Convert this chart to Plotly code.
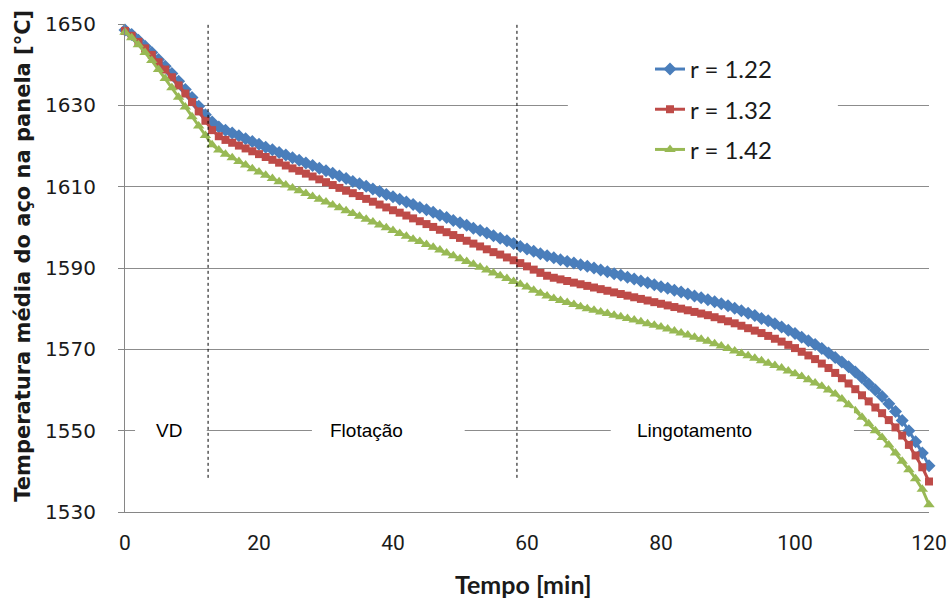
import plotly.graph_objects as go

tempo = list(range(0, 121))

r122 = [1648.5, 1647.4, 1646.0, 1644.5, 1643.0, 1641.3, 1639.6, 1637.8, 1635.9, 1633.9,
        1631.9, 1629.8, 1627.7, 1625.9, 1624.7, 1623.9, 1623.2, 1622.5, 1621.8, 1621.1,
        1620.4, 1619.7, 1619.1, 1618.4, 1617.8, 1617.1, 1616.5, 1615.8, 1615.2, 1614.5,
        1613.9, 1613.3, 1612.6, 1612.0, 1611.3, 1610.7, 1610.1, 1609.4, 1608.8, 1608.1,
        1607.5, 1606.9, 1606.2, 1605.6, 1604.9, 1604.3, 1603.7, 1603.0, 1602.4, 1601.7,
        1601.1, 1600.5, 1599.8, 1599.2, 1598.6, 1597.9, 1597.3, 1596.7, 1596.0, 1595.3,
        1594.7, 1594.1, 1593.5, 1593.0, 1592.5, 1592.0, 1591.6, 1591.2, 1590.8, 1590.4,
        1590.0, 1589.5, 1589.1, 1588.6, 1588.2, 1587.7, 1587.3, 1586.8, 1586.4, 1585.9,
        1585.4, 1585.0, 1584.5, 1584.1, 1583.6, 1583.1, 1582.7, 1582.2, 1581.7, 1581.2,
        1580.7, 1580.1, 1579.5, 1578.9, 1578.3, 1577.6, 1577.0, 1576.3, 1575.5, 1574.7,
        1573.9, 1573.0, 1572.1, 1571.2, 1570.2, 1569.1, 1568.0, 1566.9, 1565.7, 1564.4,
        1563.0, 1561.5, 1560.0, 1558.4, 1556.6, 1554.7, 1552.5, 1550.0, 1547.3, 1544.5,
        1541.4]

r132 = [1648.3, 1647.1, 1645.6, 1644.0, 1642.4, 1640.6, 1638.8, 1636.9, 1634.9, 1632.9,
        1630.8, 1628.5, 1626.2, 1623.9, 1622.4, 1621.5, 1620.8, 1620.1, 1619.4, 1618.7,
        1618.0, 1617.3, 1616.6, 1615.9, 1615.2, 1614.5, 1613.9, 1613.2, 1612.5, 1611.8,
        1611.1, 1610.4, 1609.7, 1609.0, 1608.4, 1607.7, 1607.0, 1606.3, 1605.6, 1604.9,
        1604.2, 1603.6, 1602.9, 1602.2, 1601.5, 1600.8, 1600.1, 1599.4, 1598.8, 1598.1,
        1597.4, 1596.7, 1596.0, 1595.3, 1594.6, 1593.9, 1593.3, 1592.6, 1591.9, 1591.2,
        1590.4, 1589.6, 1588.8, 1588.1, 1587.6, 1587.2, 1586.8, 1586.4, 1586.0, 1585.6,
        1585.2, 1584.8, 1584.4, 1584.0, 1583.6, 1583.2, 1582.8, 1582.4, 1582.0, 1581.6,
        1581.2, 1580.8, 1580.4, 1580.0, 1579.6, 1579.2, 1578.8, 1578.4, 1577.9, 1577.4,
        1576.9, 1576.4, 1575.8, 1575.2, 1574.6, 1574.0, 1573.3, 1572.6, 1571.9, 1571.1,
        1570.3, 1569.4, 1568.5, 1567.6, 1566.5, 1565.4, 1564.2, 1562.9, 1561.6, 1560.2,
        1558.7, 1557.2, 1555.7, 1554.3, 1552.6, 1550.8, 1548.8, 1546.5, 1543.9, 1541.0,
        1537.5]

r142 = [1648.0, 1646.6, 1644.9, 1643.0, 1641.0, 1638.8, 1636.6, 1634.3, 1632.0, 1629.6,
        1627.2, 1624.9, 1622.6, 1620.3, 1619.0, 1618.0, 1617.1, 1616.2, 1615.3, 1614.4,
        1613.6, 1612.8, 1612.0, 1611.2, 1610.4, 1609.7, 1609.0, 1608.3, 1607.6, 1606.9,
        1606.2, 1605.5, 1604.8, 1604.1, 1603.4, 1602.7, 1602.0, 1601.3, 1600.6, 1599.9,
        1599.2, 1598.5, 1597.8, 1597.1, 1596.5, 1595.8, 1595.1, 1594.4, 1593.7, 1593.0,
        1592.3, 1591.6, 1590.9, 1590.2, 1589.5, 1588.8, 1588.1, 1587.4, 1586.7, 1586.0,
        1585.3, 1584.5, 1583.8, 1583.1, 1582.5, 1582.0, 1581.5, 1581.0, 1580.5, 1580.0,
        1579.6, 1579.2, 1578.8, 1578.4, 1578.0, 1577.6, 1577.2, 1576.8, 1576.3, 1575.9,
        1575.5, 1575.0, 1574.5, 1574.0, 1573.5, 1573.0, 1572.5, 1572.0, 1571.4, 1570.8,
        1570.2, 1569.6, 1569.0, 1568.4, 1567.8, 1567.2, 1566.6, 1566.0, 1565.4, 1564.7,
        1564.0, 1563.3, 1562.5, 1561.7, 1560.9, 1560.0, 1559.0, 1557.8, 1556.4, 1554.9,
        1553.3, 1551.7, 1550.0, 1548.3, 1546.5, 1544.5, 1542.5, 1540.4, 1538.2, 1535.6,
        1531.8]

series_names = ["r = 1.22", "r = 1.32", "r = 1.42"]
series_values = [r122, r132, r142]
series_colors = ["#4A7EBB", "#BE4B48", "#98B954"]
series_symbols = ["diamond", "square", "triangle-up"]
series_sizes = [10, 8, 10]

phase_labels = ["VD", "Flotação", "Lingotamento"]
phase_label_x = [6.6, 36.0, 85.0]
phase_label_y = [1550, 1550, 1550]
phase_boxes_x = [(1.5, 12.2), (27.9, 50.7), (72.5, 108.8)]
phase_boundaries = [12.4, 58.5]

x_ticks = [0, 20, 40, 60, 80, 100, 120]
y_ticks = [1530, 1550, 1570, 1590, 1610, 1630, 1650]

fig = go.Figure()
for name, vals, col, sym, sz in zip(series_names, series_values, series_colors,
                                    series_symbols, series_sizes):
    fig.add_trace(go.Scatter(
        x=tempo, y=vals, name=name, mode="lines+markers",
        line=dict(color=col, width=3),
        marker=dict(symbol=sym, size=sz, color=col, line=dict(width=0)),
        cliponaxis=False, legendgroup=name,
    ))

shapes = []
# legend background box
shapes.append(dict(type="rect", xref="x", yref="y", x0=66.1, x1=106.4, y0=1610.6, y1=1647.3,
                   fillcolor="white", line=dict(width=0), layer="between"))
# phase label boxes
for (bx0, bx1) in phase_boxes_x:
    shapes.append(dict(type="rect", xref="x", yref="y", x0=bx0, x1=bx1, y0=1543.7, y1=1555.5,
                       fillcolor="white", line=dict(width=0), layer="above"))
# dotted phase boundaries
for xb in phase_boundaries:
    shapes.append(dict(type="line", xref="x", yref="y", x0=xb, x1=xb, y0=1538.4, y1=1650.5,
                       line=dict(color="black", width=1, dash="dot"), layer="above"))

annotations = []
for lab, lx, ly in zip(phase_labels, phase_label_x, phase_label_y):
    annotations.append(dict(x=lx, y=ly, xref="x", yref="y", text=lab, showarrow=False,
                            font=dict(family="Liberation Sans, Arial", size=19, color="black")))
annotations.append(dict(x=0.496, y=-0.1475, xref="paper", yref="paper", text="<b>Tempo [min]</b>",
                        showarrow=False, xanchor="center", yanchor="middle",
                        font=dict(family="Lato", size=25, color="#1a1a1a")))
annotations.append(dict(x=-0.127, y=0.525, xref="paper", yref="paper",
                        text="<b>Temperatura média do aço na panela [°C]</b>",
                        showarrow=False, textangle=-90, xanchor="center", yanchor="middle",
                        font=dict(family="DejaVu Sans", size=21, color="#1a1a1a")))

fig.update_layout(
    width=948, height=601,
    margin=dict(l=125, r=19, t=24, b=89, autoexpand=False),
    paper_bgcolor="white", plot_bgcolor="white",
    showlegend=True,
    legend=dict(x=0.653, y=0.953, xanchor="left", yanchor="top",
                bgcolor="rgba(0,0,0,0)", traceorder="grouped", tracegroupgap=6,
                font=dict(family="Lato", size=24, color="#1a1a1a")),
    shapes=shapes, annotations=annotations,
)
fig.update_xaxes(range=[0, 120], tickvals=x_ticks, showgrid=False, zeroline=False,
                 automargin=False,
                 showline=True, linecolor="#868686", linewidth=1, ticks="",
                 ticklabelstandoff=12,
                 tickfont=dict(family="Liberation Sans Narrow, Roboto", size=21, color="#1a1a1a"))
fig.update_yaxes(range=[1530, 1650], tickvals=y_ticks, showgrid=True, gridcolor="#8C8C8C",
                 automargin=False,
                 gridwidth=1, zeroline=False, showline=True, linecolor="#868686", linewidth=1,
                 ticks="outside", ticklen=6, tickcolor="#868686", ticklabelstandoff=18,
                 tickfont=dict(family="DejaVu Sans", size=20, color="#1a1a1a"))

fig.write_html("out.html", config={"displayModeBar": False},
               post_script="document.body.style.margin='0px';document.body.style.overflow='hidden';")
